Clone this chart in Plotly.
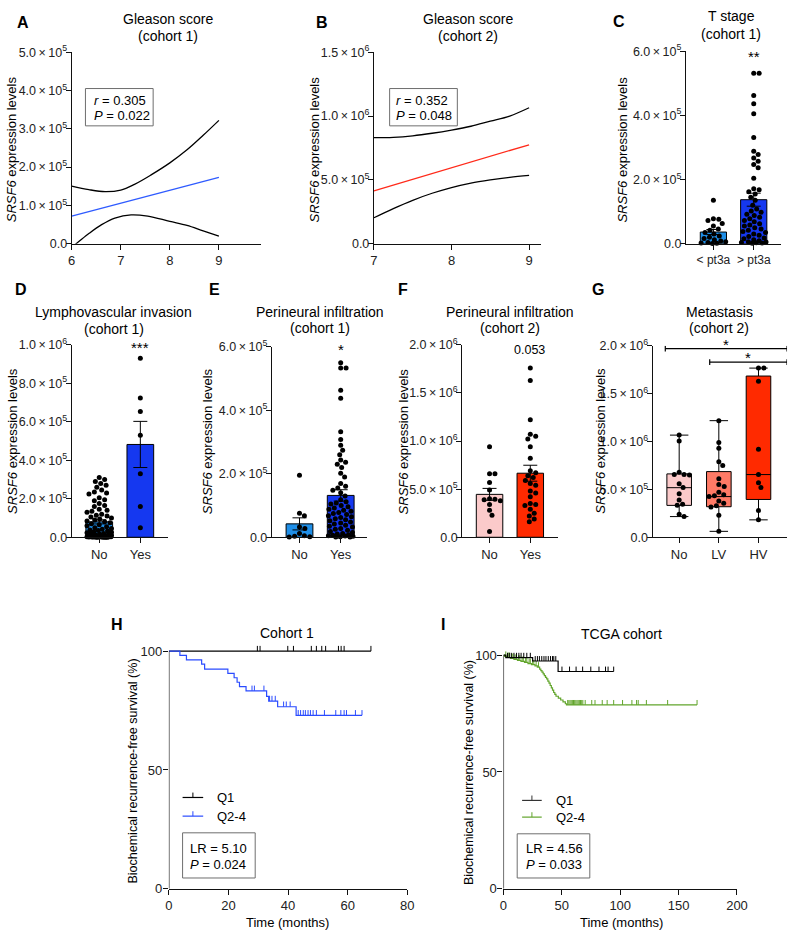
import numpy as np
import plotly.graph_objects as go

W, H = 800, 940
FONT = "Arial, Liberation Sans, Helvetica, sans-serif"

# ======================= DATA =======================
# A: Gleason score (cohort 1) - regression line and 95% CI band
a_fit_x = [6, 9]
a_fit_y = [7.2e4, 1.73e5]
a_hi_x = [6.0, 6.35, 6.68, 7.0, 7.28, 7.61, 8.0, 8.35, 8.68, 9.0]
a_hi_y = [1.50e5, 1.41e5, 1.36e5, 1.40e5, 1.55e5, 1.79e5, 2.11e5, 2.45e5, 2.83e5, 3.22e5]
a_lo_x = [6.0, 6.09, 6.35, 6.61, 6.88, 7.21, 7.55, 8.0, 8.35, 8.68, 9.0]
a_lo_y = [-8e3, 0, 2.65e4, 4.97e4, 6.68e4, 7.53e4, 7.19e4, 5.82e4, 4.79e4, 3.34e4, 1.97e4]
a_r, a_p = "0.305", "0.022"

# B: Gleason score (cohort 2)
b_fit_x = [7, 9]
b_fit_y = [4.13e5, 7.75e5]
b_hi_x = [7.0, 7.25, 7.5, 7.75, 8.0, 8.25, 8.5, 8.75, 9.0]
b_hi_y = [8.3e5, 8.33e5, 8.45e5, 8.65e5, 8.9e5, 9.2e5, 9.6e5, 1.0e6, 1.065e6]
b_lo_x = [7.0, 7.25, 7.5, 7.75, 8.0, 8.25, 8.5, 8.75, 9.0]
b_lo_y = [2.03e5, 2.75e5, 3.4e5, 3.95e5, 4.4e5, 4.75e5, 5.0e5, 5.2e5, 5.35e5]
b_r, b_p = "0.352", "0.048"

# C: T stage (cohort 1)
c_cats = ["< pt3a", "> pt3a"]
c_low = [135e3, 78e3, 76e3, 72e3, 63e3, 55e3, 46e3, 42e3, 35e3, 30e3, 24e3, 20e3, 16e3,
         12e3, 8e3, 6e3, 4e3, 2e3, 1e3, 500]
c_high = [531e3, 531e3, 462e3, 436e3, 405e3, 331e3, 288e3, 278e3, 267e3, 257e3, 247e3, 237e3,
          204e3, 171e3, 168e3, 162e3, 155e3, 145e3, 135e3, 120e3, 108e3, 102e3, 98e3, 92e3,
          88e3, 82e3, 78e3, 72e3, 68e3, 62e3, 58e3, 55e3, 50e3, 46e3, 42e3, 38e3, 35e3, 30e3,
          26e3, 22e3, 18e3, 15e3, 12e3, 9e3, 6e3, 5e3, 4e3, 3e3, 2e3, 1e3]

# D: Lymphovascular invasion (cohort 1)
d_cats = ["No", "Yes"]
d_no = [310e3, 300e3, 290e3, 280e3, 270e3, 260e3, 245e3, 235e3, 230e3, 225e3, 205e3, 195e3,
        190e3, 175e3, 165e3, 160e3, 145e3, 140e3, 135e3, 130e3, 120e3, 115e3, 110e3, 105e3,
        100e3, 95e3, 90e3, 85e3, 80e3, 75e3, 70e3, 65e3, 60e3, 55e3, 50e3, 46e3, 42e3, 38e3,
        35e3, 32e3, 29e3, 26e3, 23e3, 20e3, 18e3, 16e3, 14e3, 12e3, 10e3, 9e3, 8e3, 7e3, 6e3,
        6e3, 5e3, 5e3, 4e3, 4e3, 3.5e3, 3e3, 3e3, 2.5e3, 2.5e3, 2e3, 2e3, 1.5e3, 1.5e3, 1e3,
        1e3, 800, 500, 500, 300, 100, 0]
d_yes = [930e3, 723e3, 653e3, 530e3, 330e3, 160e3, 50e3]

# E: Perineural infiltration (cohort 1)
e_cats = ["No", "Yes"]
e_no = [195e3, 76e3, 68e3, 32e3, 28e3, 12e3, 5e3, 3e3, 2e3, 1e3]
e_yes = [550e3, 533e3, 533e3, 463e3, 438e3, 332e3, 308e3, 290e3, 274e3, 260e3, 243e3, 236e3,
         230e3, 220e3, 202e3, 190e3, 169e3, 161e3, 155e3, 148e3, 140e3, 130e3, 118e3, 112e3,
         108e3, 105e3, 100e3, 96e3, 92e3, 88e3, 85e3, 82e3, 78e3, 75e3, 72e3, 68e3, 65e3,
         62e3, 58e3, 55e3, 52e3, 48e3, 45e3, 42e3, 38e3, 35e3, 32e3, 28e3, 25e3, 22e3, 18e3,
         15e3, 12e3, 10e3, 8e3, 6e3, 5e3, 4e3, 3e3, 2e3, 1e3, 500]

# F: Perineural infiltration (cohort 2)
f_cats = ["No", "Yes"]
f_no = [9.4e5, 6.6e5, 6.6e5, 5.7e5, 4.9e5, 4.0e5, 3.95e5, 3.9e5, 3.8e5, 3.4e5, 2.8e5, 2.3e5, 0.6e5]
f_yes = [17.6e5, 16.3e5, 12.2e5, 10.7e5, 10.5e5, 10.2e5, 9.4e5, 8.2e5, 6.9e5, 6.7e5, 6.4e5,
         6.2e5, 5.9e5, 5.6e5, 5.4e5, 4.8e5, 4.6e5, 4.2e5, 3.5e5, 3.4e5, 3.3e5, 2.9e5, 2.5e5,
         2.2e5, 1.9e5, 1.6e5]
f_pval = "0.053"

# G: Metastasis (cohort 2) - box plots
g_cats = ["No", "LV", "HV"]
g_no = [10.67e5, 10.05e5, 6.8e5, 6.55e5, 6.55e5, 6.5e5, 5.6e5, 5.2e5, 4.55e5, 3.9e5, 3.45e5,
        3.35e5, 2.4e5, 2.16e5]
g_lv = [12.18e5, 9.9e5, 9.3e5, 7.9e5, 7.5e5, 6.1e5, 5.5e5, 5.3e5, 4.7e5, 4.45e5, 4.35e5,
        4.25e5, 3.8e5, 3.55e5, 3.3e5, 3.15e5, 2.3e5, 0.62e5]
g_hv = [17.67e5, 17.67e5, 16.3e5, 9.2e5, 6.55e5, 5.7e5, 5.2e5, 2.8e5, 1.82e5]
g_q1 = [3.33e5, 3.19e5, 3.95e5]
g_med = [5.18e5, 4.25e5, 6.55e5]
g_q3 = [6.62e5, 6.86e5, 16.84e5]
g_min = [2.16e5, 0.62e5, 1.82e5]
g_max = [10.67e5, 12.18e5, 17.67e5]

# H: Cohort 1 Kaplan-Meier
h_q1_t, h_q1_s, h_q1_end = [], [], 67.8
h_q1_cens = [29.7, 30.6, 39.9, 41.8, 47.8, 49.5, 51.3, 52.6, 56.9, 57.8, 58.8, 67.8]
h_q24_t = [3.7, 5.9, 11.0, 12.0, 19.8, 21.9, 22.9, 23.7, 25.9, 32.8, 33.5, 36.5, 42.7]
h_q24_s = [98.2, 96.3, 94.5, 92.4, 90.6, 88.8, 86.9, 85.1, 83.3, 81.0, 79.0, 76.6, 73.0]
h_q24_end = 64.8
h_q24_cens = [27.9, 28.7, 31.9, 33.8, 34.6, 35.7, 38.5, 39.4, 40.7, 43.4, 44.2, 45.1, 45.8,
              46.7, 47.5, 48.4, 49.5, 52.2, 56.0, 57.7, 58.8, 59.6, 62.6, 64.8]
h_lr, h_p = "5.10", "0.024"

# I: TCGA cohort Kaplan-Meier
i_q1_t = [2.0, 25.0, 46.8]
i_q1_s = [98.9, 97.5, 93.0]
i_q1_end = 94.4
i_q1_cens = [3.5, 5.0, 6.7, 9.0, 11.2, 13.2, 15.1, 17.4, 20.0, 23.0, 27.2, 29.1, 30.8, 32.8,
             34.7, 36.4, 38.4, 40.3, 42.0, 43.1, 44.8, 50.1, 56.6, 62.2, 67.8, 74.8, 81.8,
             87.4, 89.6, 94.4]
i_q24_t = [1, 3, 6, 9, 12, 15, 18, 21, 24, 27, 29, 31, 32, 33, 34, 35, 36, 37, 38, 39, 40,
           41, 42, 43, 44, 45, 47, 49, 51, 53, 54]
i_q24_s = [99.5, 99.0, 98.6, 98.2, 97.8, 97.3, 96.9, 96.4, 95.9, 95.4, 94.9, 94.0, 93.4, 92.7,
           92.0, 91.2, 90.5, 89.8, 88.9, 88.0, 87.0, 86.0, 85.0, 84.0, 83.2, 82.4, 81.6, 80.8,
           80.0, 79.2, 78.7]
i_q24_end = 165.8
i_q24_cens = [2, 4, 5, 7, 8, 10, 11, 13, 14, 16, 17, 19, 20, 22, 23, 25, 26, 28, 30, 55, 56,
              57, 58, 59, 60, 61, 62, 63, 64, 65, 66, 67, 68, 70, 75.6, 78.4, 84.6, 88.8, 94.4,
              102, 110, 114, 115.4, 122.4, 140.6, 165.8]
i_lr, i_p = "4.56", "0.033"

# tick values
a_yt = [0, 1e5, 2e5, 3e5, 4e5, 5e5]
b_yt = [0, 5e5, 1e6, 1.5e6]
c_yt = [0, 2e5, 4e5, 6e5]
d_yt = [0, 2e5, 4e5, 6e5, 8e5, 1e6]
e_yt = [0, 2e5, 4e5, 6e5]
f_yt = [0, 5e5, 1e6, 1.5e6, 2e6]
km_yt = [0, 50, 100]

# ======================= STYLE =======================
LIGHT_BLUE = "#1F8FE8"
DARK_BLUE = "#1538F0"
PINK = "#FBCACA"
SALMON = "#FF7A66"
RED = "#FF2A00"
AXC = "#111111"


def sci(v):
    if v == 0:
        return "0.0"
    e = int(np.floor(np.log10(v) + 1e-9))
    return f"{v / 10 ** e:.1f}\u2009×\u200910<sup>{e}</sup>"


fig = go.Figure()
layout = dict(width=W, height=H, margin=dict(l=0, r=0, t=0, b=0), paper_bgcolor="white",
              plot_bgcolor="white", showlegend=False, font=dict(family=FONT, color="black"))
annotations, shapes = [], []


def ax_names(n):
    return ("xaxis" if n == 1 else f"xaxis{n}", "yaxis" if n == 1 else f"yaxis{n}",
            "x" if n == 1 else f"x{n}", "y" if n == 1 else f"y{n}")


def add_axes(n, xpx, ypx, xr, yr, xtv, xtt, ytv, ytt, yline=True, xfont=13, yfont=12.5,
             ystand=-4):
    xa, ya, xr_, yr_ = ax_names(n)
    common = dict(showgrid=False, zeroline=False, ticks="outside", ticklen=5, tickwidth=1.2,
                  tickcolor=AXC, linecolor=AXC, linewidth=1.2, fixedrange=True)
    layout[xa] = dict(domain=[xpx[0] / W, xpx[1] / W], range=xr, anchor=yr_, showline=True,
                      tickmode="array", tickvals=xtv, ticktext=xtt,
                      tickfont=dict(size=xfont, color="#222", family=FONT), **common)
    layout[ya] = dict(domain=[1 - ypx[1] / H, 1 - ypx[0] / H], range=yr, anchor=xr_,
                      showline=yline, tickmode="array", tickvals=ytv, ticktext=ytt,
                      ticklabelstandoff=ystand,
                      tickfont=dict(size=yfont, color="#222", family=FONT), **common)
    return xr_, yr_


def text(xpx, ypx, s, size=13, anchor="center", angle=0, color="black"):
    annotations.append(dict(x=xpx / W, y=1 - ypx / H, xref="paper", yref="paper", text=s,
                            showarrow=False, xanchor=anchor, yanchor="middle", textangle=angle,
                            font=dict(size=size, color=color, family=FONT)))


def rect(x0, y0, x1, y1):
    shapes.append(dict(type="rect", xref="paper", yref="paper", x0=x0 / W, x1=x1 / W,
                       y0=1 - y1 / H, y1=1 - y0 / H, line=dict(color="#6e6e6e", width=1)))


def pline(x0, y0, x1, y1, color="black", width=1.2):
    shapes.append(dict(type="line", xref="paper", yref="paper", x0=x0 / W, x1=x1 / W,
                       y0=1 - y0 / H, y1=1 - y1 / H, line=dict(color=color, width=width)))


def swarm(vals, center, ppx, ppy, diam=5.4, maxoff=12.5, step=0.5):
    vals = np.asarray(vals, dtype=float)
    order = np.argsort(-vals, kind="stable")
    cands = [0.0]
    k = 1
    while k * step <= maxoff:
        cands += [k * step, -k * step]
        k += 1
    placed = []
    xs = np.zeros(len(vals))
    for i in order:
        y = vals[i] * ppy
        best, bestd = 0.0, -1.0
        for c in cands:
            d = min((np.hypot(c - px, y - py) for px, py in placed), default=1e9)
            if d >= diam:
                best = c
                break
            if d > bestd:
                bestd, best = d, c
        placed.append((best, y))
        xs[i] = center + best / ppx
    return xs


def bar_panel(n, groups, colors, ppx, ppy, maxoff=12.5):
    xa, ya = ax_names(n)[2:]
    means = [float(np.mean(g)) for g in groups]
    sems = [float(np.std(g, ddof=1) / np.sqrt(len(g))) for g in groups]
    fig.add_trace(go.Bar(x=list(range(len(groups))), y=means, width=0.65, xaxis=xa, yaxis=ya,
                         marker=dict(color=colors, line=dict(color="black", width=1)),
                         error_y=dict(type="data", array=sems, visible=True, color="black",
                                      thickness=1, width=7)))
    px, py = [], []
    for i, g in enumerate(groups):
        px += list(swarm(g, i, ppx, ppy, maxoff=maxoff))
        py += list(g)
    fig.add_trace(go.Scatter(x=px, y=py, mode="markers", xaxis=xa, yaxis=ya, cliponaxis=False,
                             marker=dict(color="black", size=5)))


# ---------------- Panel A ----------------
xa, ya = add_axes(1, (69, 262), (44, 239), [6, 9.86], [0, 5e5], [6, 7, 8, 9],
                  ["6", "7", "8", "9"], a_yt, [sci(v) for v in a_yt])
for xs, ys in [(a_hi_x, a_hi_y), (a_lo_x, a_lo_y)]:
    fig.add_trace(go.Scatter(x=xs, y=ys, mode="lines", xaxis=xa, yaxis=ya,
                             line=dict(color="black", width=1.3, shape="spline")))
fig.add_trace(go.Scatter(x=a_fit_x, y=a_fit_y, mode="lines", line=dict(color="#2F5BFF", width=1.3),
                         xaxis=xa, yaxis=ya))

# ---------------- Panel B ----------------
xa, ya = add_axes(2, (377, 547), (44, 239), [7, 9.15], [0, 1.5e6], [7, 8, 9], ["7", "8", "9"],
                  b_yt, [sci(v) for v in b_yt])
for xs, ys in [(b_hi_x, b_hi_y), (b_lo_x, b_lo_y)]:
    fig.add_trace(go.Scatter(x=xs, y=ys, mode="lines", xaxis=xa, yaxis=ya,
                             line=dict(color="black", width=1.3, shape="spline")))
fig.add_trace(go.Scatter(x=b_fit_x, y=b_fit_y, mode="lines", line=dict(color="#FF2A1A", width=1.3),
                         xaxis=xa, yaxis=ya))

# ---------------- Panel C ----------------
add_axes(3, (695, 792), (43, 239), [-0.68, 1.68], [0, 6e5], [0, 1], c_cats, c_yt,
         [sci(v) for v in c_yt], xfont=12)
bar_panel(3, [c_low, c_high], [LIGHT_BLUE, DARK_BLUE], 41, 196 / 6e5)

# ---------------- Panel D ----------------
add_axes(4, (69, 167), (342, 538), [-0.67, 1.67], [0, 1e6], [0, 1], d_cats, d_yt,
         [sci(v) for v in d_yt])
bar_panel(4, [d_no, d_yes], [LIGHT_BLUE, DARK_BLUE], 42, 196 / 1e6)

# ---------------- Panel E ----------------
add_axes(5, (273, 370), (344, 538), [-0.67, 1.64], [0, 6e5], [0, 1], e_cats, e_yt,
         [sci(v) for v in e_yt])
bar_panel(5, [e_no, e_yes], [LIGHT_BLUE, DARK_BLUE], 42, 194 / 6e5)

# ---------------- Panel F ----------------
add_axes(6, (467, 565), (342, 538), [-0.67, 1.69], [0, 2e6], [0, 1], f_cats, f_yt,
         [sci(v) for v in f_yt])
bar_panel(6, [f_no, f_yes], [PINK, RED], 41.5, 196 / 2e6)

# ---------------- Panel G ----------------
xa, ya = add_axes(7, (661, 798), (343, 538), [-0.67, 2.72], [0, 2e6], [0, 1, 2], g_cats, f_yt,
                  [sci(v) for v in f_yt])
for i, col in enumerate([PINK, SALMON, RED]):
    fig.add_trace(go.Box(x=[i], q1=[g_q1[i]], median=[g_med[i]], q3=[g_q3[i]],
                         lowerfence=[g_min[i]], upperfence=[g_max[i]], width=0.62,
                         whiskerwidth=0.75, fillcolor=col, line=dict(color="black", width=1),
                         boxpoints=False, xaxis=xa, yaxis=ya, hoverinfo="skip"))
gx, gy = [], []
for i, g in enumerate([g_no, g_lv, g_hv]):
    gx += list(swarm(g, i, 40.5, 195 / 2e6, maxoff=11))
    gy += list(g)
fig.add_trace(go.Scatter(x=gx, y=gy, mode="markers", xaxis=xa, yaxis=ya, cliponaxis=False,
                         marker=dict(color="black", size=5)))
for (x0, x1, yb) in [(-0.35, 2.72, 1.97e6), (0.77, 2.72, 1.83e6)]:
    shapes.append(dict(type="line", xref=xa, yref=ya, x0=x0, x1=x1, y0=yb, y1=yb,
                       line=dict(color="black", width=1.2)))
    for xe in (x0, x1):
        shapes.append(dict(type="line", xref=xa, yref=ya, x0=xe, x1=xe, y0=yb - 0.03e6,
                           y1=yb + 0.03e6, line=dict(color="black", width=1.2)))
    annotations.append(dict(x=(x0 + x1) / 2, y=yb, xref=xa, yref=ya, text="*", showarrow=False,
                            yanchor="bottom", yshift=-6, font=dict(size=15, family=FONT)))


# ---------------- KM helpers ----------------
def km_xy(times, surv, end):
    x = [0] + list(times) + [end]
    y = [100] + list(surv) + [surv[-1] if surv else 100]
    return x, y


def surv_at(t, times, surv):
    s = 100
    for tt, ss in zip(times, surv):
        if tt <= t:
            s = ss
    return s


def km_traces(xa, ya, times, surv, end, cens, color, h):
    x, y = km_xy(times, surv, end)
    fig.add_trace(go.Scatter(x=x, y=y, mode="lines", line=dict(color=color, width=1.2, shape="hv"),
                             xaxis=xa, yaxis=ya))
    cx, cy = [], []
    for c in cens:
        s = surv_at(c, times, surv)
        cx += [c, c, None]
        cy += [s, s + h, None]
    fig.add_trace(go.Scatter(x=cx, y=cy, mode="lines", line=dict(color=color, width=1),
                             xaxis=xa, yaxis=ya))


# ---------------- Panel H ----------------
xa, ya = add_axes(8, (168, 411), (646.7, 896), [0, 80], [0, 103], [0, 20, 40, 60, 80],
                  ["0", "20", "40", "60", "80"], km_yt, [str(v) for v in km_yt], yline=False,
                  yfont=13, ystand=-2)
shapes.append(dict(type="line", xref=xa, yref=ya, x0=0, x1=0, y0=0, y1=100,
                   line=dict(color=AXC, width=1.2)))
km_traces(xa, ya, h_q1_t, h_q1_s, h_q1_end, h_q1_cens, "black", 2.2)
km_traces(xa, ya, h_q24_t, h_q24_s, h_q24_end, h_q24_cens, "#2A4BFF", 2.2)

# ---------------- Panel I ----------------
xa, ya = add_axes(9, (509, 747), (650.9, 896), [0, 200], [0, 103], [0, 50, 100, 150, 200],
                  ["0", "50", "100", "150", "200"], km_yt, [str(v) for v in km_yt], yline=False,
                  yfont=13, ystand=-2)
shapes.append(dict(type="line", xref=xa, yref=ya, x0=0, x1=0, y0=0, y1=100,
                   line=dict(color=AXC, width=1.2)))
km_traces(xa, ya, i_q24_t, i_q24_s, i_q24_end, i_q24_cens, "#62A52C", 2.1)
km_traces(xa, ya, i_q1_t, i_q1_s, i_q1_end, i_q1_cens, "black", 2.1)

# ---------------- text annotations ----------------
for L, x, y in [("A", 19, 14), ("B", 324, 14), ("C", 627, 13), ("D", 17, 286), ("E", 215, 286),
                ("F", 407, 286), ("G", 605, 286), ("H", 115, 627), ("I", 447, 627)]:
    text(x, y, f"<b>{L}</b>", size=16, anchor="center")

for s1, s2, x, y1, y2 in [("Gleason score", "(cohort 1)", 167, 10, 27),
                          ("Gleason score", "(cohort 2)", 473, 10, 27),
                          ("T stage", "(cohort 1)", 741, 7, 25),
                          ("Lymphovascular invasion", "(cohort 1)", 112, 309, 326),
                          ("Perineural infiltration", "(cohort 1)", 322, 309, 325),
                          ("Perineural infiltration", "(cohort 2)", 516, 309, 325),
                          ("Metastasis", "(cohort 2)", 729, 309, 325)]:
    text(x, y1, s1, size=14)
    text(x, y2, s2, size=14)
text(288, 635, "Cohort 1", size=14)
text(629, 637, "TCGA cohort", size=14)

ylab = "<i>SRSF6</i> expression levels"
for x, y in [(8, 143), (316, 143), (630, 143), (8, 440), (207, 440), (407, 440), (607, 440)]:
    text(x, y, ylab, size=13, angle=-90)
for x, y in [(131, 776), (474, 778)]:
    text(x, y, "Biochemical recurrence-free survival (%)", size=12.5, angle=-90)
text(289, 930, "Time (months)", size=13)
text(629, 930, "Time (months)", size=13)

text(764, 48, "**", size=15)
text(139, 345, "***", size=15)
text(343, 347, "*", size=15)
text(536, 347, f_pval, size=12.5)

rect(83, 81, 152, 119)
text(90, 93, f"<i>r</i> = {a_r}", size=13, anchor="left")
text(90, 108, f"<i>P</i> = {a_p}", size=13, anchor="left")
rect(393, 81, 462, 119)
text(397, 93, f"<i>r</i> = {b_r}", size=13, anchor="left")
text(397, 108, f"<i>P</i> = {b_p}", size=13, anchor="left")
rect(182, 839, 256, 885)
text(188, 855, f"LR = {h_lr}", size=13, anchor="left")
text(188, 871, f"<i>P</i> = {h_p}", size=13, anchor="left")
rect(523, 840, 597, 885)
text(530, 855, f"LR = {i_lr}", size=13, anchor="left")
text(530, 871, f"<i>P</i> = {i_p}", size=13, anchor="left")

for (x0, x1, y, col, lab) in [(182, 203, 803, "black", "Q1"), (182, 203, 822, "#2A4BFF", "Q2-4"),
                              (528, 548, 806, "#333333", "Q1"), (528, 548, 823, "#62A52C", "Q2-4")]:
    pline(x0, y, x1, y, color=col, width=1.2)
    pline((x0 + x1) / 2, y, (x0 + x1) / 2, y - 5, color=col, width=1)
    text(x1 + 12, y, lab, size=13, anchor="left")

layout["annotations"] = annotations
layout["shapes"] = shapes
fig.update_layout(**layout)
fig.write_html("out.html", config={"displayModeBar": False},
               post_script="document.body.style.margin='0px';")
